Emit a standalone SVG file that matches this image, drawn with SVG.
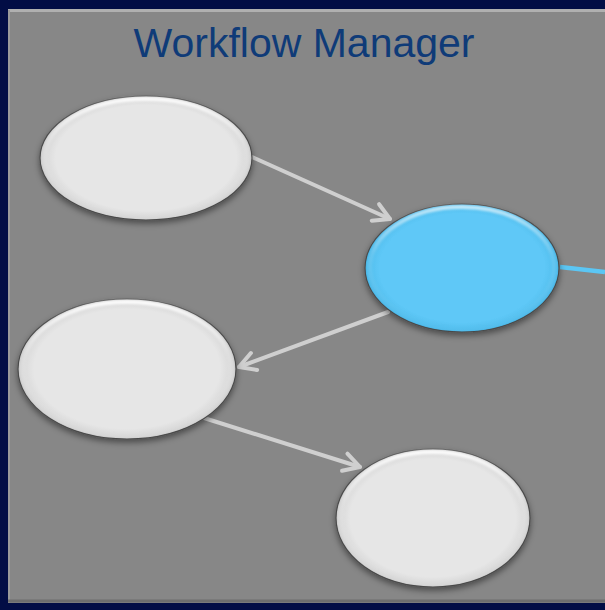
<svg xmlns="http://www.w3.org/2000/svg" width="605" height="610" viewBox="0 0 605 610">
<defs>
<style>
.node{stroke:#4a4a4a;stroke-width:1.2}
.gray{fill:url(#gGray)}
.blue{fill:url(#gBlue)}
.hl{fill:none;stroke:url(#gHl);stroke-width:4}
.conn{stroke:#cfcfcf;stroke-width:4;fill:none;stroke-linecap:round}
.title{font-family:"Liberation Sans",Arial,sans-serif;font-size:41px;fill:#0f3b78}
</style>
<radialGradient id="gGray" cx="0.5" cy="0.5" r="0.52">
<stop offset="0.82" stop-color="#e6e6e6"/>
<stop offset="0.94" stop-color="#d6d6d6"/>
<stop offset="1" stop-color="#a9a9a9"/>
</radialGradient>
<radialGradient id="gBlue" cx="0.5" cy="0.5" r="0.52">
<stop offset="0.82" stop-color="#5ec8f7"/>
<stop offset="0.94" stop-color="#52bdec"/>
<stop offset="1" stop-color="#2f95c6"/>
</radialGradient>
<linearGradient id="gHl" x1="0" y1="0" x2="0" y2="1">
<stop offset="0" stop-color="#ffffff" stop-opacity="0.9"/>
<stop offset="0.4" stop-color="#ffffff" stop-opacity="0.15"/>
<stop offset="1" stop-color="#ffffff" stop-opacity="0"/>
</linearGradient>
<filter id="sh" x="-20%" y="-20%" width="140%" height="150%">
<feDropShadow dx="0" dy="3" stdDeviation="3" flood-color="#000" flood-opacity="0.45"/>
</filter>
<filter id="bl" x="-10%" y="-10%" width="120%" height="120%">
<feGaussianBlur stdDeviation="1.2"/>
</filter>
<marker id="arr" viewBox="0 0 12 12" refX="10" refY="6" markerWidth="6" markerHeight="6" markerUnits="strokeWidth" orient="auto">
<path d="M2,1.5 L10,6 L2,10.5" fill="none" stroke="#cfcfcf" stroke-width="2" stroke-linecap="round" stroke-linejoin="round"/>
</marker>
</defs>
<rect x="0" y="0" width="605" height="610" fill="#020d45"/>
<rect x="8" y="10" width="600" height="593" fill="#878787"/>
<path d="M8,10.5 H605" stroke="#b0b0b0" stroke-width="3"/>
<path d="M9,10 V603" stroke="#9a9a9a" stroke-width="2"/>
<path d="M8,601 H605" stroke="#6e6e6e" stroke-width="3"/>
<text class="title" x="304" y="57" text-anchor="middle">Workflow Manager</text>
<g id="connectors">
<line class="conn" x1="252" y1="157" x2="390" y2="219" marker-end="url(#arr)"/>
<line class="conn" x1="388" y1="312" x2="239" y2="367" marker-end="url(#arr)"/>
<line class="conn" x1="204" y1="418" x2="360" y2="467" marker-end="url(#arr)"/>
<line x1="560" y1="267" x2="605" y2="272" stroke="#5bc6f4" stroke-width="4.5"/>
</g>
<g id="n1">
<ellipse class="node gray" cx="146" cy="158" rx="106" ry="62" filter="url(#sh)"/>
<ellipse class="hl" cx="146" cy="157" rx="101" ry="58" filter="url(#bl)"/>
</g>
<g id="n2">
<ellipse class="node blue" cx="462" cy="268" rx="97" ry="64" filter="url(#sh)"/>
<ellipse class="hl" cx="462" cy="267" rx="92" ry="60" filter="url(#bl)" stroke-opacity="0.7"/>
</g>
<g id="n3">
<ellipse class="node gray" cx="127" cy="369" rx="109" ry="70" filter="url(#sh)"/>
<ellipse class="hl" cx="127" cy="368" rx="104" ry="66" filter="url(#bl)"/>
</g>
<g id="n4">
<ellipse class="node gray" cx="433" cy="518" rx="97" ry="69" filter="url(#sh)"/>
<ellipse class="hl" cx="433" cy="517" rx="92" ry="65" filter="url(#bl)"/>
</g>
</svg>
